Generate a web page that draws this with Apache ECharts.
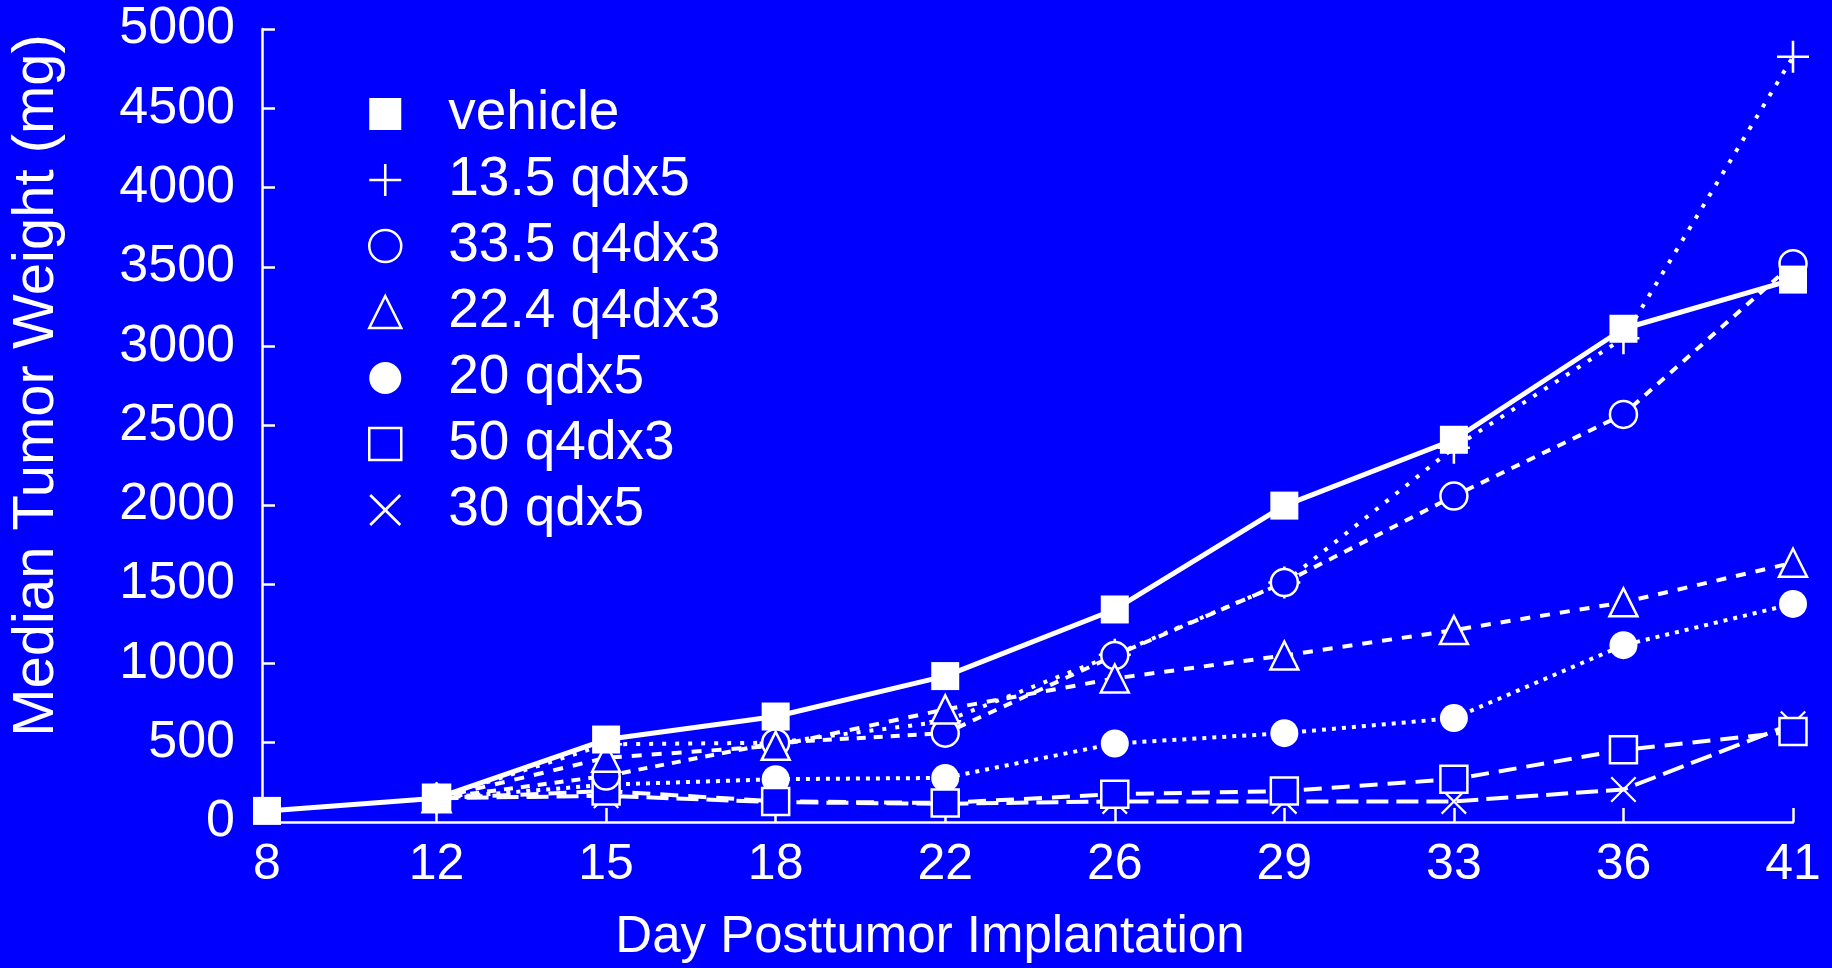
<!DOCTYPE html>
<html>
<head>
<meta charset="utf-8">
<title>Median Tumor Weight</title>
<script src="https://cdn.jsdelivr.net/npm/echarts@6/dist/echarts.min.js"></script>
<style>
  html, body { margin: 0; padding: 0; background: #0000ff; }
  #chart { width: 1832px; height: 968px; }
</style>
</head>
<body>
<div id="chart"></div>
<script>
// Day after tumour implantation (evenly spaced categories)
const days = ['8', '12', '15', '18', '22', '26', '29', '33', '36', '41'];

// Median tumour weight (mg) per group
const vehicle     = [70, 150, 520, 665, 920, 1340, 1995, 2410, 3110, 3420];
const dose13_5qd  = ['-', 150, 490, 500, 635, 1055, 1510, 2360, 3050, 4825];
const dose33_5q4d = ['-', 150, 290, 500, 560, 1050, 1510, 2055, 2570, 3520];
const dose22_4q4d = ['-', 150, 405, 480, 710, 905, 1050, 1210, 1385, 1635];
const dose20qd    = ['-', 150, 235, 270, 278, 495, 560, 655, 1115, 1375];
const dose50q4d   = ['-', 150, 195, 130, 120, 175, 195, 270, 455, 570];
const dose30qd    = ['-', 150, 165, 125, 115, 130, 130, 130, 205, 620];

// Legend labels
const names = ['vehicle', '13.5 qdx5', '33.5 q4dx3', '22.4 q4dx3', '20 qdx5', '50 q4dx3', '30 qdx5'];

const BG = '#0000ff';
const FG = '#ffffff';
const FONT = '"Liberation Sans", Arial, Helvetica, sans-serif';

const PLUS = 'path://M4.6,0H5.4V4.6H10V5.4H5.4V10H4.6V5.4H0V4.6H4.6Z';
const CROSS = 'path://M0,0.6L0.6,0L5,4.4L9.4,0L10,0.6L5.6,5L10,9.4L9.4,10L5,5.6L0.6,10L0,9.4L4.4,5Z';

const filled = { color: FG, borderWidth: 0 };
const hollow = { color: BG, borderColor: FG, borderWidth: 2.5 };

function lineSeries(name, data, symbol, size, itemStyle, dash, width, z) {
  return {
    name: name,
    type: 'line',
    data: data,
    symbol: symbol,
    symbolSize: size,
    itemStyle: itemStyle,
    lineStyle: { color: FG, width: width, type: dash },
    z: z,
    emphasis: { disabled: true },
    animation: false
  };
}

const chart = echarts.init(document.getElementById('chart'), null, { renderer: 'canvas' });

chart.setOption({
  backgroundColor: BG,
  animation: false,
  textStyle: { fontFamily: FONT },
  grid: { left: 265, right: 39, top: 29, bottom: 142, containLabel: false },
  xAxis: {
    type: 'category',
    data: days,
    boundaryGap: false,
    axisLine: { lineStyle: { color: FG, width: 2.5 } },
    axisTick: { inside: true, length: 14, lineStyle: { color: FG, width: 2.5 } },
    axisLabel: { color: FG, fontSize: 50, fontFamily: FONT, margin: 18 },
    splitLine: { show: false },
    name: 'Day Posttumor Implantation',
    nameLocation: 'middle',
    nameGap: 90,
    nameTextStyle: { color: FG, fontSize: 51, fontFamily: FONT, padding: [0, 200, 0, 0] }
  },
  yAxis: {
    type: 'value',
    min: 0,
    max: 5000,
    interval: 500,
    offset: 5,
    axisLine: { show: true, lineStyle: { color: FG, width: 2.5 } },
    axisTick: { show: true, inside: true, length: 13, lineStyle: { color: FG, width: 2.5 } },
    axisLabel: { color: FG, fontSize: 52, fontFamily: FONT, margin: 27, formatter: v => String(v) },
    splitLine: { show: false },
    name: 'Median Tumor Weight (mg)',
    nameLocation: 'middle',
    nameGap: 196,
    nameTextStyle: { color: FG, fontSize: 58, fontFamily: FONT, padding: [0, 0, 0, 80] }
  },
  legend: {
    orient: 'vertical',
    left: 363,
    top: 76,
    itemWidth: 32,
    itemHeight: 32,
    itemGap: 0,
    selectedMode: false,
    textStyle: { color: FG, fontSize: 55, fontFamily: FONT, lineHeight: 66, padding: [0, 0, 0, 42] },
    data: [
      { name: names[0], icon: 'rect', itemStyle: filled },
      { name: names[1], icon: PLUS, itemStyle: filled },
      { name: names[2], icon: 'circle', itemStyle: hollow },
      { name: names[3], icon: 'triangle', itemStyle: hollow },
      { name: names[4], icon: 'circle', itemStyle: filled },
      { name: names[5], icon: 'rect', itemStyle: hollow },
      { name: names[6], icon: CROSS, itemStyle: filled }
    ]
  },
  series: [
    lineSeries(names[6], dose30qd, CROSS, 26, filled, [22, 8], 4, 2),
    lineSeries(names[4], dose20qd, 'circle', 28, filled, [4, 6], 4, 3),
    lineSeries(names[5], dose50q4d, 'rect', 27, hollow, [18, 10], 4, 4),
    lineSeries(names[1], dose13_5qd, PLUS, 32, filled, [4, 9], 4, 5),
    lineSeries(names[2], dose33_5q4d, 'circle', 27, hollow, [9, 8], 4, 6),
    lineSeries(names[3], dose22_4q4d, 'triangle', 28, hollow, [10, 10], 4, 7),
    lineSeries(names[0], vehicle, 'rect', 28, filled, 'solid', 5, 8)
  ]
});
</script>
</body>
</html>
